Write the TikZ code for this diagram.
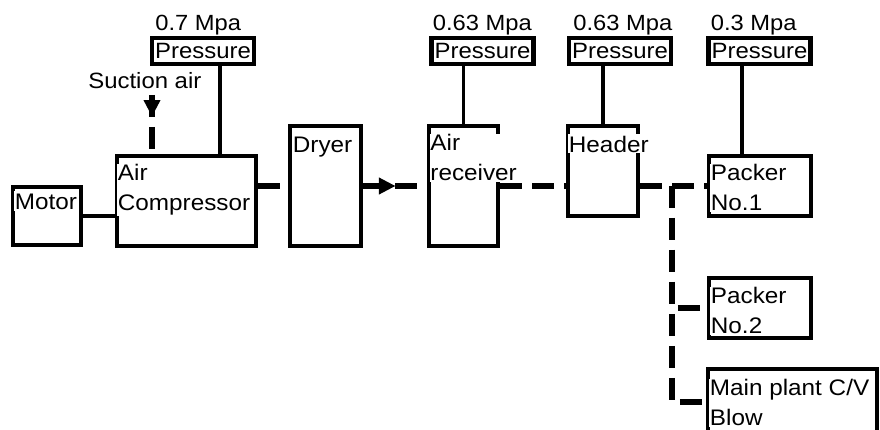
\documentclass[tikz,border=0pt]{standalone}
\usepackage{fontspec}
\setmainfont{Liberation Sans}[FakeStretch=1.08]
\usetikzlibrary{positioning,arrows.meta,decorations.markings}
\tikzset{
  blk/.style  ={draw, line width=2.6pt, inner sep=0pt},
  prs/.style  ={draw, line width=2.3pt, inner sep=0pt,
                minimum width=2.04cm, minimum height=0.52cm,
                font=\fontsize{12.6}{17}\selectfont},
  txt/.style  ={fill=white, inner sep=0.5pt, align=left, anchor=north west,
                font=\fontsize{12.8}{17}\selectfont,
                execute at begin node={\rule{0pt}{10pt}}},
  val/.style  ={inner sep=0pt, anchor=base west,
                font=\fontsize{12.5}{14}\selectfont},
  ln/.style   ={line width=2pt},
  dl/.style   ={line width=3pt, dash pattern=on 12.5pt off 5.7pt},
  dla/.style  ={dl, postaction={decorate}, decoration={markings,
                mark=at position #1 with
                {\arrow{Triangle[length=9.5pt,width=9pt]}}}}
}

\begin{document}
\begin{tikzpicture}
\useasboundingbox (0,0) rectangle (17.6,8.6);

% blocks along the air line
\node[blk, minimum width=1.36cm, minimum height=1.16cm] (mot)  at (0.94,4.28) {};
\node[blk, minimum width=2.78cm, minimum height=1.8cm]  (cmp)  at (3.73,4.58) {};
\node[blk, minimum width=1.42cm, minimum height=2.4cm]  (dry)  at (6.51,4.88) {};
\node[blk, minimum width=1.38cm, minimum height=2.4cm]  (recv) at (9.27,4.88) {};
\node[blk, minimum width=1.4cm,  minimum height=1.8cm]  (hdr)  at (12.06,5.18) {};
\node[blk, minimum width=2.04cm, minimum height=1.2cm]  (pk1)  at (15.2,4.88) {};
\node[blk, minimum width=2.04cm, minimum height=1.2cm]  (pk2)  at (15.2,2.44) {};
\node[blk, minimum width=3.38cm, minimum height=1.32cm] (main) at (15.85,0.56) {};

\node[txt] (motT)  at ([shift={(0.06,-0.12)}]mot.north west)  {Motor};
\node[txt] (cmpT)  at ([shift={(0.04,-0.19)}]cmp.north west)  {Air\\Compressor};
\node[txt] (dryT)  at ([shift={(0.08,-0.19)}]dry.north west)  {Dryer};
\node[txt] (recvT) at ([shift={(0.05,-0.19)}]recv.north west) {Air\\receiver};
\node[txt] (hdrT)  at ([shift={(0.04,-0.19)}]hdr.north west)  {Header};
\node[txt] (pk1T)  at ([shift={(0.06,-0.19)}]pk1.north west)  {Packer\\No.1};
\node[txt] (pk2T)  at ([shift={(0.06,-0.21)}]pk2.north west)  {Packer\\No.2};
\node[txt] (mainT) at ([shift={(0.06,-0.23)}]main.north west) {Main plant C/V\\Blow};

% pressure gauges
\node[prs] (p1) at (4.06,7.58)  {Pressure};
\node[prs] (p2) at (9.65,7.58)  {Pressure};
\node[prs] (p3) at (12.4,7.58)  {Pressure};
\node[prs] (p4) at (15.19,7.58) {Pressure};
\node[val] (v1) at ([shift={(0.1,0.1)}]p1.north west)  {0.7 Mpa};
\node[val] (v2) at ([shift={(0.06,0.1)}]p2.north west) {0.63 Mpa};
\node[val] (v3) at ([shift={(0.12,0.1)}]p3.north west) {0.63 Mpa};
\node[val] (v4) at ([shift={(0.08,0.1)}]p4.north west) {0.3 Mpa};

\draw[ln] ([xshift=0.34cm]p1.south) -- ([xshift=0.34cm]p1.south |- cmp.north);
\draw[ln] (p2.south -| recv.north) -- (recv.north);
\draw[ln] (p3.south -| hdr.north) -- (hdr.north);
\draw[ln] ([xshift=-0.35cm]p4.south) -- ([xshift=-0.35cm]p4.south |- pk1.north);
\draw[ln] (mot.east) -- (mot.east -| cmp.west);

% suction air
\node[val, font=\fontsize{12.6}{17}\selectfont] (sucT) at (1.76,6.82) {Suction air};
\coordinate (suc) at (3.04,6.7);
\draw[dla=0.37] (suc) -- (suc |- cmp.north);

% air line
\draw[dl] (dry.west -| cmp.east) -- (dry.west);
\draw[dla=0.51] (dry.east) -- (recv.west);
\draw[dl] (recv.east) -- (recv.east -| hdr.west);
\coordinate (split) at (13.44,4.88);
\draw[dl] (hdr.east |- pk1.west) -- (pk1.west);
\draw[dl] (split) |- (pk2.west);
\draw[dl] (split) |- (main.west);
\end{tikzpicture}
\end{document}
